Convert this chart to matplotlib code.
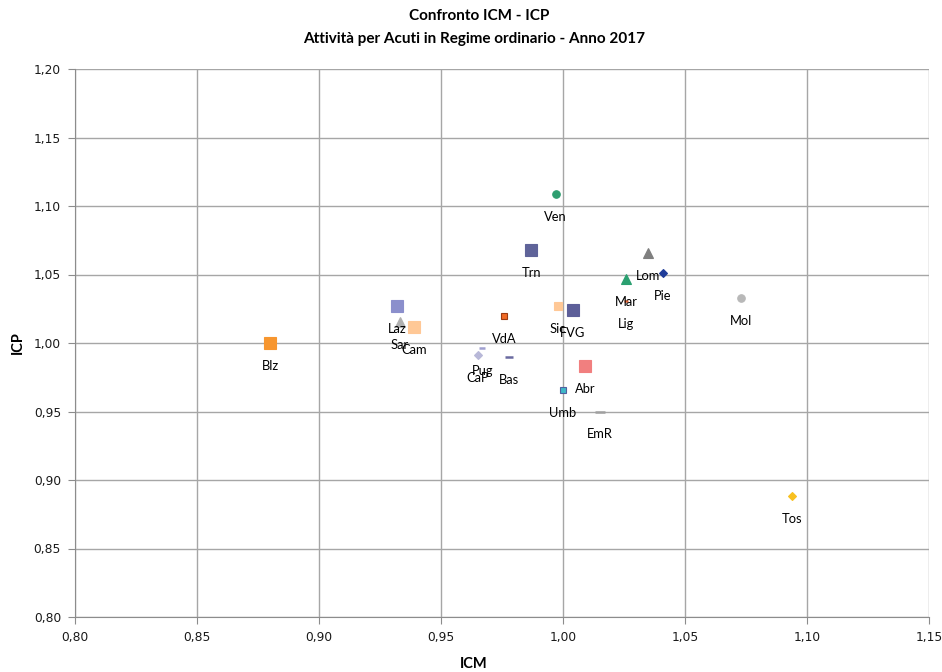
import matplotlib
matplotlib.use("Agg")
import matplotlib.pyplot as plt
from matplotlib.ticker import MultipleLocator, FuncFormatter

# Regional ICM / ICP values
regions = ["Blz", "Laz", "Sar", "Cam", "VdA", "Pug", "CaP", "Bas", "Sic", "FVG",
           "Abr", "Umb", "EmR", "Ven", "Trn", "Lom", "Pie", "Mar", "Lig", "Mol", "Tos"]
icm = [0.880, 0.932, 0.933, 0.939, 0.976, 0.967, 0.965, 0.978, 0.998, 1.004,
       1.009, 1.000, 1.015, 0.997, 0.987, 1.035, 1.041, 1.026, 1.026, 1.073, 1.094]
icp = [1.000, 1.027, 1.015, 1.012, 1.020, 0.996, 0.991, 0.990, 1.027, 1.024,
       0.983, 0.966, 0.950, 1.109, 1.068, 1.066, 1.051, 1.047, 1.031, 1.033, 0.888]

# Marker style per region: (marker, size, face colour, edge colour)
styles = {
    "Blz": ("s", 8.3, "#f7962f", "#f7962f"),
    "Laz": ("s", 8.3, "#8b8fcc", "#8b8fcc"),
    "Sar": ("^", 6.5, "#b0b0b0", "#b0b0b0"),
    "Cam": ("s", 8.3, "#ffc896", "#ffc896"),
    "VdA": ("s", 4.8, "#f06a25", "#9a3a12"),
    "Pug": ("_", 3.8, "#a0a0d0", "#a0a0d0"),
    "CaP": ("D", 4.4, "#b8b8d8", "#b8b8d8"),
    "Bas": ("_", 6.3, "#6a6aa0", "#6a6aa0"),
    "Sic": ("s", 5.4, "#ffc896", "#ffc896"),
    "FVG": ("s", 8.3, "#5d5f99", "#5d5f99"),
    "Abr": ("s", 8.3, "#f17f7f", "#f17f7f"),
    "Umb": ("s", 4.6, "#3fb8c8", "#5060a0"),
    "EmR": ("_", 6.5, "#a0a0a0", "#a0a0a0"),
    "Ven": ("o", 5.4, "#2e9e70", "#2e9e70"),
    "Trn": ("s", 8.3, "#5f6399", "#5f6399"),
    "Lom": ("^", 6.5, "#7f7f7f", "#7f7f7f"),
    "Pie": ("D", 4.5, "#1f3c99", "#1f3c99"),
    "Mar": ("^", 6.5, "#2aa070", "#2aa070"),
    "Lig": ("_", 3.2, "#e06030", "#e06030"),
    "Mol": ("o", 5.4, "#b8b8b8", "#b8b8b8"),
    "Tos": ("D", 4.4, "#f8c020", "#f8c020"),
}

fig = plt.figure(figsize=(9.42, 6.72), dpi=100)
ax = fig.add_axes([75 / 942, 1 - 617 / 672, (929 - 75) / 942, (617 - 69) / 672])

ax.set_xlim(0.80, 1.15)
ax.set_ylim(0.80, 1.20)
ax.xaxis.set_major_locator(MultipleLocator(0.05))
ax.yaxis.set_major_locator(MultipleLocator(0.05))
fmt = FuncFormatter(lambda v, p: f"{v:.2f}".replace(".", ","))
ax.xaxis.set_major_formatter(fmt)
ax.yaxis.set_major_formatter(fmt)
ax.grid(True, color="#a6a6a6", linewidth=1.0)
ax.set_axisbelow(True)
for side in ["top", "right"]:
    ax.spines[side].set_visible(False)
for side in ["left", "bottom"]:
    ax.spines[side].set_color("#8c8c8c")
ax.tick_params(direction="out", length=5, color="#8c8c8c", labelsize=8.8,
               labelcolor="#1a1a1a", pad=5)

for name, x, y in zip(regions, icm, icp):
    m, s, fc, ec = styles[name]
    if m == "_":
        ax.plot(x, y, marker=m, markersize=s, markeredgewidth=1.8, color=fc,
                linestyle="none", zorder=3)
    else:
        ax.plot(x, y, marker=m, markersize=s, markerfacecolor=fc,
                markeredgecolor=ec, markeredgewidth=0.8, linestyle="none", zorder=3)
    ax.annotate(name, (x, y), xytext=(0, -23), textcoords="offset pixels",
                ha="center", va="center", fontsize=9.3, family="Lato", zorder=4)

fig.text(479 / 942, 1 - 16 / 672, "Confronto ICM - ICP", ha="center", va="center",
         fontsize=11, fontweight="bold", family="Lato")
fig.text(474 / 942, 1 - 39 / 672, "Attività per Acuti in Regime ordinario - Anno 2017",
         ha="center", va="center", fontsize=11, fontweight="bold", family="Lato")
fig.text(18 / 942, 1 - 343 / 672, "ICP", rotation=90, ha="center", va="center",
         fontsize=10.5, fontweight="bold", family="Lato")
fig.text(474 / 942, 1 - 664 / 672, "ICM", ha="center", va="center",
         fontsize=10.5, fontweight="bold", family="Lato")

fig.savefig("out.png", dpi=100)
